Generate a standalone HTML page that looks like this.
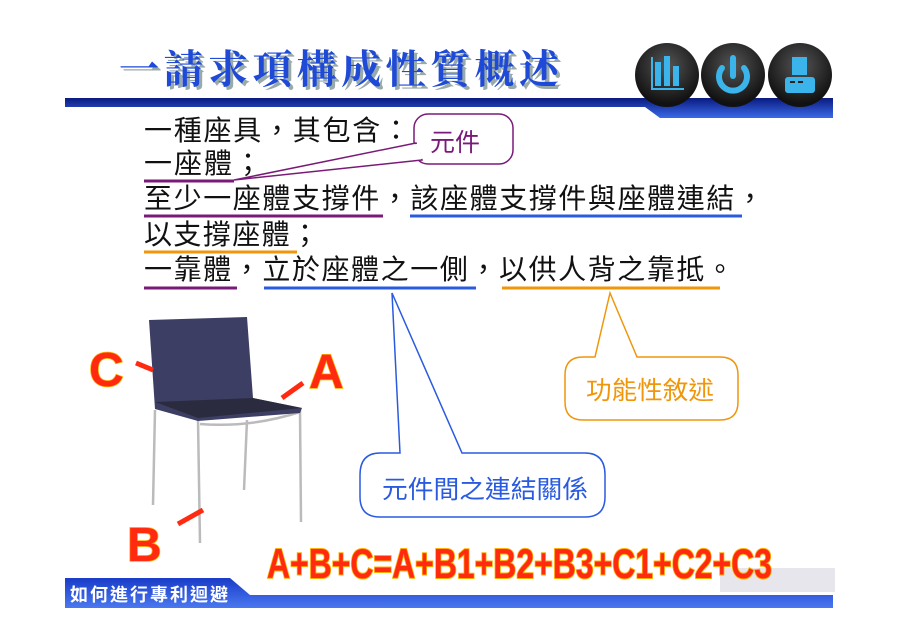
<!DOCTYPE html>
<html><head><meta charset="utf-8"><style>
body{margin:0;background:#fff;}
svg{display:block;}
</style></head><body>
<svg width="900" height="637" viewBox="0 0 900 637" xmlns="http://www.w3.org/2000/svg" font-family="Liberation Sans, Noto Sans CJK TC, sans-serif">
<defs>
<linearGradient id="bar" x1="0" y1="0" x2="0" y2="1"><stop offset="0" stop-color="#0a1a80"/><stop offset="1" stop-color="#3a6ae8"/></linearGradient>
<radialGradient id="ic" cx="0.5" cy="0.35" r="0.6"><stop offset="0" stop-color="#555"/><stop offset="1" stop-color="#111"/></radialGradient>
<linearGradient id="ft" x1="0" y1="0" x2="0" y2="1"><stop offset="0" stop-color="#1a3cc8"/><stop offset="1" stop-color="#4a78f0"/></linearGradient>
</defs>
<polygon points="65,98 833,98 833,118 660,118 645,107 65,107" fill="url(#bar)"/>
<text x="122" y="86" font-size="40" font-weight="bold" fill="#9aa" textLength="440" font-family="Liberation Serif, Noto Serif CJK SC, serif">一請求項構成性質概述</text>
<text x="119" y="83" font-size="40" font-weight="bold" fill="#1f4ad8" textLength="440" font-family="Liberation Serif, Noto Serif CJK SC, serif">一請求項構成性質概述</text>
<circle cx="667" cy="75" r="32" fill="url(#ic)"/>
<circle cx="733" cy="75" r="32" fill="url(#ic)"/>
<circle cx="800" cy="75" r="32" fill="url(#ic)"/>
<g fill="#3ab4ea">
<rect x="655" y="62" width="6" height="24"/><rect x="664" y="56" width="6" height="30"/><rect x="673" y="66" width="6" height="20"/>
<rect x="651" y="57" width="2" height="33"/><rect x="651" y="88" width="33" height="2"/>
<rect x="785" y="77" width="30" height="16" rx="3"/><rect x="792" y="57" width="15" height="18"/>
</g>
<rect x="790" y="81" width="5" height="2" fill="#222"/><rect x="798" y="81" width="5" height="2" fill="#222"/>
<path d="M722,68 A14,14 0 1 0 744,68" fill="none" stroke="#3ab4ea" stroke-width="6" stroke-linecap="round"/>
<line x1="733" y1="58" x2="733" y2="76" stroke="#3ab4ea" stroke-width="6" stroke-linecap="round"/>
<g font-size="28" fill="#111">
<text x="144" y="140" textLength="266">一種座具，其包含：</text>
<text x="144" y="173" textLength="118">一座體；</text>
<text x="144" y="208" textLength="620">至少一座體支撐件，該座體支撐件與座體連結，</text>
<text x="144" y="244" textLength="175">以支撐座體；</text>
<text x="144" y="279" textLength="590">一靠體，立於座體之一側，以供人背之靠抵。</text>
</g>
<g stroke-width="3">
<line x1="144" y1="181" x2="234" y2="181" stroke="#7a1a78"/>
<line x1="144" y1="216" x2="383" y2="216" stroke="#7a1a78"/>
<line x1="410" y1="216" x2="742" y2="216" stroke="#2a5ae0"/>
<line x1="144" y1="252" x2="297" y2="252" stroke="#f0960a"/>
<line x1="144" y1="288" x2="237" y2="288" stroke="#7a1a78"/>
<line x1="264" y1="288" x2="476" y2="288" stroke="#2a5ae0"/>
<line x1="502" y1="288" x2="720" y2="288" stroke="#f0960a"/>
</g>
<rect x="414" y="114" width="99" height="50" rx="14" fill="#fff" stroke="#7a1a78" stroke-width="1.5"/>
<polygon points="416,143 234,180 422,160" fill="#fff" stroke="#7a1a78" stroke-width="1.5"/>
<line x1="416.5" y1="144" x2="421.5" y2="159" stroke="#fff" stroke-width="2"/>
<text x="430" y="151" font-size="25" fill="#7a1a78">元件</text>
<path d="M400,453 L392,293 L462,453 L585,453 Q605,453 605,475 L605,497 Q605,517 585,517 L380,517 Q360,517 360,497 L360,475 Q360,453 380,453 Z" fill="#fff" stroke="#2a5ae0" stroke-width="1.5"/>
<text x="382" y="498" font-size="25" fill="#2a5ae0" textLength="206" lengthAdjust="spacingAndGlyphs">元件間之連結關係</text>
<path d="M595,357 L610,293 L637,357 L720,357 Q738,357 738,375 L738,402 Q738,420 720,420 L583,420 Q565,420 565,402 L565,375 Q565,357 583,357 Z" fill="#fff" stroke="#f0960a" stroke-width="1.5"/>
<text x="586" y="399" font-size="25" fill="#f0960a" textLength="128" lengthAdjust="spacingAndGlyphs">功能性敘述</text>
<g stroke="#bbb" stroke-width="2.5" fill="none">
<line x1="155" y1="410" x2="153" y2="505"/>
<line x1="198" y1="420" x2="200" y2="543"/>
<line x1="247" y1="420" x2="244" y2="490"/>
<line x1="300" y1="410" x2="301" y2="522"/>
<path d="M200,424 Q250,428 300,412"/>
</g>
<polygon points="149,320 247,317 253,398 302,408 300,413 198,421 155,409" fill="#3d3e63"/>
<polygon points="155,402 253,398 302,408 198,418" fill="#2b2b40"/>
<g font-size="48" font-weight="bold" fill="#ff2a10" stroke="#ffb000" stroke-width="1.5" paint-order="stroke">
<text x="89" y="386" textLength="42">C</text>
<text x="309" y="388" textLength="46">A</text>
<text x="127" y="561" textLength="46">B</text>
</g>
<g stroke="#ff2a10" stroke-width="5">
<line x1="136" y1="363" x2="153" y2="370"/>
<line x1="282" y1="398" x2="303" y2="383"/>
<line x1="178" y1="524" x2="203" y2="510"/>
</g>
<rect x="720" y="568" width="115" height="24" fill="#e6e6ec"/>
<polygon points="65,578 230,578 250,595 833,595 833,608 65,608" fill="url(#ft)"/>
<text x="70" y="601" font-size="18" font-weight="bold" fill="#fff" textLength="158">如何進行專利迴避</text>
<text x="267" y="578" font-size="42" font-weight="bold" fill="#ff2a10" stroke="#ffb000" stroke-width="2" paint-order="stroke" textLength="505" lengthAdjust="spacingAndGlyphs">A+B+C=A+B1+B2+B3+C1+C2+C3</text>
</svg>
</body></html>
